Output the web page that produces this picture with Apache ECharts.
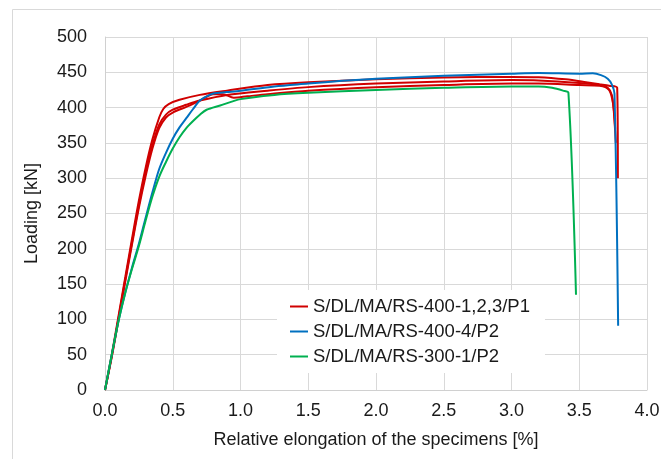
<!DOCTYPE html>
<html>
<head>
<meta charset="utf-8">
<script src="https://cdn.jsdelivr.net/npm/echarts@6/dist/echarts.min.js"></script>
<style>
html,body{margin:0;padding:0;background:#fff;}
#main{width:661px;height:459px;}
</style>
</head>
<body>
<div id="main"></div>
<script>
var NAME_RED = "S/DL/MA/RS-400-1,2,3/P1";
var NAME_BLUE = "S/DL/MA/RS-400-4/P2";
var NAME_GREEN = "S/DL/MA/RS-300-1/P2";

var xTicks = [0, 0.5, 1, 1.5, 2, 2.5, 3, 3.5, 4];
var yTicks = [0, 50, 100, 150, 200, 250, 300, 350, 400, 450, 500];

// [elongation %, load kN]
var red1 = [[0,0],[0.05,50],[0.1,105],[0.15,160],[0.2,215],[0.25,268],[0.3,315],[0.35,355],[0.4,386],[0.43,398],[0.47,405],[0.55,411],[0.7,418],[0.9,424],[1.2,432],[1.5,436],[2.0,440],[2.5,442.5],[3.0,443.5],[3.2,443],[3.4,440],[3.55,436],[3.65,433],[3.72,431],[3.78,428],[3.785,300]];
var red2 = [[0,0],[0.05,48],[0.1,102],[0.15,157],[0.2,210],[0.25,262],[0.3,308],[0.35,347],[0.4,376],[0.45,390],[0.5,397],[0.6,404],[0.7,410],[0.9,418],[1.2,424],[1.5,429],[2.0,434],[2.5,437],[3.0,439],[3.2,438.5],[3.5,435],[3.65,432],[3.71,428],[3.74,418],[3.755,395],[3.77,350]];
var red3 = [[0,0],[0.05,47],[0.1,100],[0.15,154],[0.2,207],[0.25,258],[0.3,303],[0.35,342],[0.4,371],[0.45,386],[0.5,393],[0.6,401],[0.7,410],[0.8,419],[0.87,419],[0.95,414],[1.05,416],[1.2,419],[1.5,424],[2.0,429],[2.5,432],[3.0,434],[3.2,434],[3.5,432],[3.65,431],[3.72,425],[3.75,405],[3.765,370]];
var blue = [[0,0],[0.05,50],[0.1,98],[0.15,138],[0.2,174],[0.25,207],[0.3,244],[0.35,280],[0.4,313],[0.45,336],[0.5,356],[0.55,372],[0.6,385],[0.65,398],[0.7,410],[0.75,416],[0.8,420],[0.9,422],[1.0,424],[1.25,430],[1.5,434],[1.75,438],[2.0,441],[2.5,445],[3.0,448],[3.2,449],[3.5,448],[3.6,448.5],[3.66,446],[3.71,441],[3.74,433],[3.76,420],[3.787,91]];
var green = [[0,0],[0.05,50],[0.1,98],[0.15,138],[0.2,172],[0.25,204],[0.3,240],[0.35,274],[0.4,302],[0.45,323],[0.5,342],[0.55,358],[0.6,371],[0.65,381],[0.7,390],[0.75,397],[0.85,403],[1.0,412],[1.25,418],[1.5,421],[2.0,425],[2.5,428],[3.0,430],[3.2,430],[3.3,428],[3.38,424],[3.42,421],[3.476,135]];

var RED = "#d00000", BLUE = "#0070c0", GREEN = "#00b050";
var FONT = "Liberation Sans";

function lineSeries(name, data, color) {
	return {
		name: name,
		type: "line",
		data: data,
		showSymbol: false,
		symbol: "none",
		smooth: 0.3,
		lineStyle: { color: color, width: 2 },
		itemStyle: { color: color },
		emphasis: { disabled: true }
	};
}

var chart = echarts.init(document.getElementById("main"));
chart.setOption({
	animation: false,
	backgroundColor: "#fff",
	textStyle: { fontFamily: FONT },
	graphic: [{
		type: "rect",
		shape: { x: 12.5, y: 9.5, width: 700, height: 500 },
		style: { fill: null, stroke: "#d9d9d9", lineWidth: 1 },
		z: -10
	}],
	grid: {
		left: 105, right: 14, top: 37, bottom: 69,
		outerBoundsMode: "none"
	},
	legend: {
		data: [NAME_RED, NAME_BLUE, NAME_GREEN],
		orient: "vertical",
		left: 277, top: 290,
		padding: [4, 15, 4, 13],
		backgroundColor: "#fff",
		icon: "rect",
		itemWidth: 18, itemHeight: 2,
		itemGap: 0, itemTextGap: 4,
		selectedMode: false,
		textStyle: { fontFamily: FONT, fontSize: 18.5, color: "#1a1a1a", lineHeight: 25 }
	},
	xAxis: {
		type: "value",
		min: xTicks[0], max: xTicks[xTicks.length - 1], interval: 0.5,
		name: "Relative elongation of the specimens [%]",
		nameLocation: "middle", nameGap: 41,
		nameTextStyle: { fontFamily: FONT, fontSize: 18, color: "#1a1a1a" },
		axisLine: { show: true, lineStyle: { color: "#d0d0d0", width: 1 } },
		axisTick: { show: false },
		axisLabel: { margin: 12, fontFamily: FONT, fontSize: 18, color: "#1a1a1a",
			formatter: function(v) { return v.toFixed(1); } },
		splitLine: { show: true, lineStyle: { color: "#d9d9d9", width: 1 } }
	},
	yAxis: {
		type: "value",
		min: yTicks[0], max: yTicks[yTicks.length - 1], interval: 50,
		name: "Loading [kN]",
		nameLocation: "middle", nameGap: 64,
		nameTextStyle: { fontFamily: FONT, fontSize: 18, color: "#1a1a1a" },
		axisLine: { show: true, lineStyle: { color: "#d0d0d0", width: 1 } },
		axisTick: { show: false },
		axisLabel: { margin: 18, fontFamily: FONT, fontSize: 18, color: "#1a1a1a" },
		splitLine: { show: true, lineStyle: { color: "#d9d9d9", width: 1 } }
	},
	series: [
		lineSeries(NAME_RED, red1, RED),
		lineSeries(NAME_RED, red2, RED),
		lineSeries(NAME_RED, red3, RED),
		lineSeries(NAME_BLUE, blue, BLUE),
		lineSeries(NAME_GREEN, green, GREEN)
	]
});
</script>
</body>
</html>
